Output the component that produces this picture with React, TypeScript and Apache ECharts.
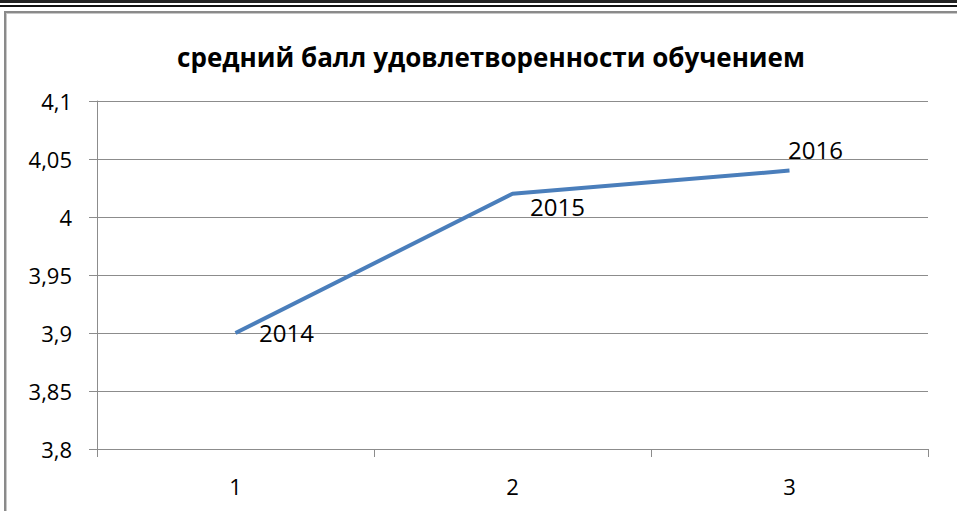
import React, { useEffect, useRef } from "react";
import * as echarts from "echarts";

const categories = ["1", "2", "3"];
const values = [3.9, 4.02, 4.04];
const pointLabels = ["2014", "2015", "2016"];
const titleText = "средний балл удовлетворенности обучением";

const FONT = "'Open Sans', 'Noto Sans', sans-serif";

export default function App() {
  const ref = useRef<HTMLDivElement>(null);
  useEffect(() => {
    if (!ref.current) return;
    const chart = echarts.init(ref.current, null, { renderer: "svg" });
    const labelOffsets = [
      [23, -1],
      [17, 13],
      [-2, -21],
    ];
    chart.setOption({
      animation: false,
      backgroundColor: "#ffffff",
      title: {
        text: titleText,
        left: 486,
        top: 39,
        textAlign: "center",
        textStyle: { fontFamily: FONT, fontWeight: "bold", fontSize: 26, color: "#000" },
      },
      graphic: [
        { type: "rect", shape: { x: 0, y: 0, width: 957, height: 3 }, style: { fill: "#222" } },
        { type: "rect", shape: { x: 0, y: 5, width: 957, height: 2 }, style: { fill: "#111" } },
        { type: "rect", shape: { x: 4, y: 11, width: 953, height: 2 }, style: { fill: "#8a8a8a" } },
        { type: "rect", shape: { x: 4, y: 13, width: 953, height: 1 }, style: { fill: "#c8c8c8" } },
        { type: "rect", shape: { x: 4, y: 11, width: 2, height: 500 }, style: { fill: "#8a8a8a" } },
        { type: "rect", shape: { x: 6, y: 13, width: 1, height: 498 }, style: { fill: "#c8c8c8" } },
      ],
      grid: { left: 97, right: 29, top: 101, bottom: 62 },
      xAxis: {
        type: "category",
        data: categories,
        boundaryGap: true,
        axisLine: { lineStyle: { color: "#8c8c8c", width: 1 } },
        axisTick: { show: true, length: 8, lineStyle: { color: "#8c8c8c" } },
        axisLabel: { fontFamily: FONT, fontSize: 22, color: "#000", margin: 26 },
        splitLine: { show: false },
      },
      yAxis: {
        type: "value",
        min: 3.8,
        max: 4.1,
        interval: 0.05,
        axisLine: { show: true, lineStyle: { color: "#8c8c8c", width: 1 } },
        axisTick: { show: true, length: 8, lineStyle: { color: "#8c8c8c" } },
        axisLabel: {
          fontFamily: FONT,
          fontSize: 22,
          color: "#000",
          margin: 25,
          formatter: (v: number) => String(Number(v.toFixed(2))).replace(".", ","),
        },
        splitLine: { show: true, lineStyle: { color: "#8c8c8c", width: 1 } },
      },
      series: [
        {
          type: "line",
          data: values.map((v, i) => ({
            value: v,
            label: {
              show: true,
              position: "right",
              distance: 0,
              offset: labelOffsets[i],
              formatter: pointLabels[i],
            },
          })),
          symbol: "circle",
          symbolSize: 1,
          showSymbol: true,
          itemStyle: { color: "rgba(0,0,0,0)", borderWidth: 0 },
          lineStyle: { color: "#4a7ebb", width: 4 },
          label: { fontFamily: FONT, fontSize: 24, color: "#000" },
        },
      ],
    });
    return () => chart.dispose();
  }, []);
  return (
    <div
      ref={ref}
      style={{ position: "fixed", left: 0, top: 0, width: 957, height: 511 }}
    />
  );
}
